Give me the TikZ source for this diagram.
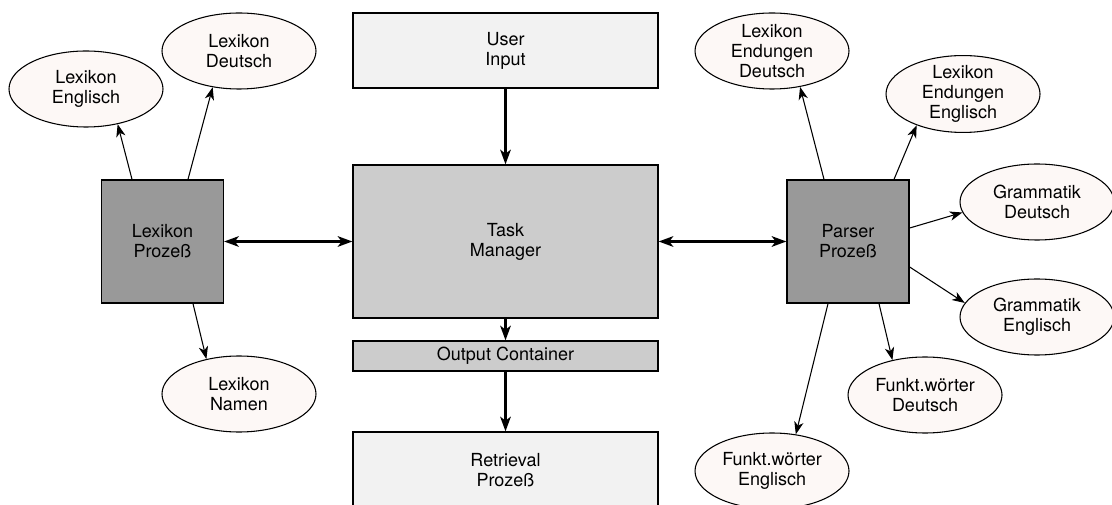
\documentclass[tikz,border=0pt]{standalone}
\usepackage{fontspec}
\setmainfont{TeX Gyre Heros}
\usetikzlibrary{shapes.geometric,arrows.meta}
\definecolor{lightbox}{HTML}{F2F2F2}
\definecolor{midbox}{HTML}{CCCCCC}
\definecolor{darkbox}{HTML}{999999}
\definecolor{ovalfill}{HTML}{FDF8F6}
\begin{document}
\begin{tikzpicture}
[x=0.75pt,y=-0.75pt,font=\fontsize{13.5}{15}\selectfont,
  boxdecorate/.style={shape=rectangle,draw,line width=1pt,align=center,inner sep=0pt},%
  ovaldecorate/.style={shape=ellipse,draw,line width=0.8pt,fill=ovalfill,align=center,
    inner sep=-1pt,minimum width=115.5pt,minimum height=57pt},%
  mainarrow/.style={-{Stealth[length=11pt,width=8pt,inset=3pt]},line width=1.6pt},%
  botharrow/.style={{Stealth[length=11pt,width=8pt,inset=3pt]}-{Stealth[length=11pt,width=8pt,inset=3pt]},line width=1.6pt},%
  thinarrow/.style={-{Stealth[length=9.5pt,width=7pt,inset=2.8pt]},line width=0.8pt}]
\path[use as bounding box,clip] (0,0) rectangle (1112,505);
%% boxes
\foreach \nodename/\x/\y/\w/\h/\shade/\boxtext in {
  userin/505.5/50.5/228.75/56.25/lightbox/{User\\Input},
  task/505.5/241.5/228.75/114.75/midbox/{Task\\Manager},
  output/505.5/356/228.75/22.5/midbox/{Output Container},
  retrieval/505.5/470/228.75/57/lightbox/{Retrieval\\Prozeß},
  lexpro/162.5/241.5/91.5/92.25/darkbox/{Lexikon\\Prozeß},
  parser/848/241.5/91.5/92.25/darkbox/{Parser\\Prozeß}} {
  \node (\nodename) at (\x,\y) [boxdecorate,fill=\shade,
    minimum width=\w pt,minimum height=\h pt] {\boxtext};
}
%% ovals
\foreach \nodename/\x/\y/\ovaltext in {
  lexen/86/89/{Lexikon\\Englisch}, lexde/239/51/{Lexikon\\Deutsch},
  lexna/239/394/{Lexikon\\Namen},
  lexendde/772/51/{Lexikon\\Endungen\\Deutsch},
  lexenden/963/94/{Lexikon\\Endungen\\Englisch},
  grade/1037/202/{Grammatik\\Deutsch}, graen/1037/317/{Grammatik\\Englisch},
  funkde/925/395/{Funkt.wörter\\Deutsch}, funken/772/471/{Funkt.wörter\\Englisch}} {
  \node (\nodename) at (\x,\y) [ovaldecorate] {\ovaltext};
}
%% main connectors
\path
\foreach \startnode/\endnode in {userin/task, task/output, output/retrieval} {
  (\startnode) edge[mainarrow] (\endnode)
};
\draw[botharrow] (lexpro) -- (task);
\draw[botharrow] (task) -- (parser);
%% connectors to the ovals
\foreach \src/\anc/\dx/\dy/\dst/\ang in {
  lexpro/north/-30.5/0/lexen/-48, lexpro/north/25.5/0/lexde/-126,
  lexpro/south/30.5/0/lexna/133,
  parser/north/-24/0/lexendde/-52, parser/north/46/0/lexenden/-146,
  parser/east/0/-13.5/grade/-172, parser/east/0/25.5/graen/169,
  parser/south/31/0/funkde/133, parser/south/-20/0/funken/57} {
  \draw[thinarrow] ([shift={(\dx,\dy)}]\src.\anc) -- (\dst.\ang);
}
\end{tikzpicture}
\end{document}
